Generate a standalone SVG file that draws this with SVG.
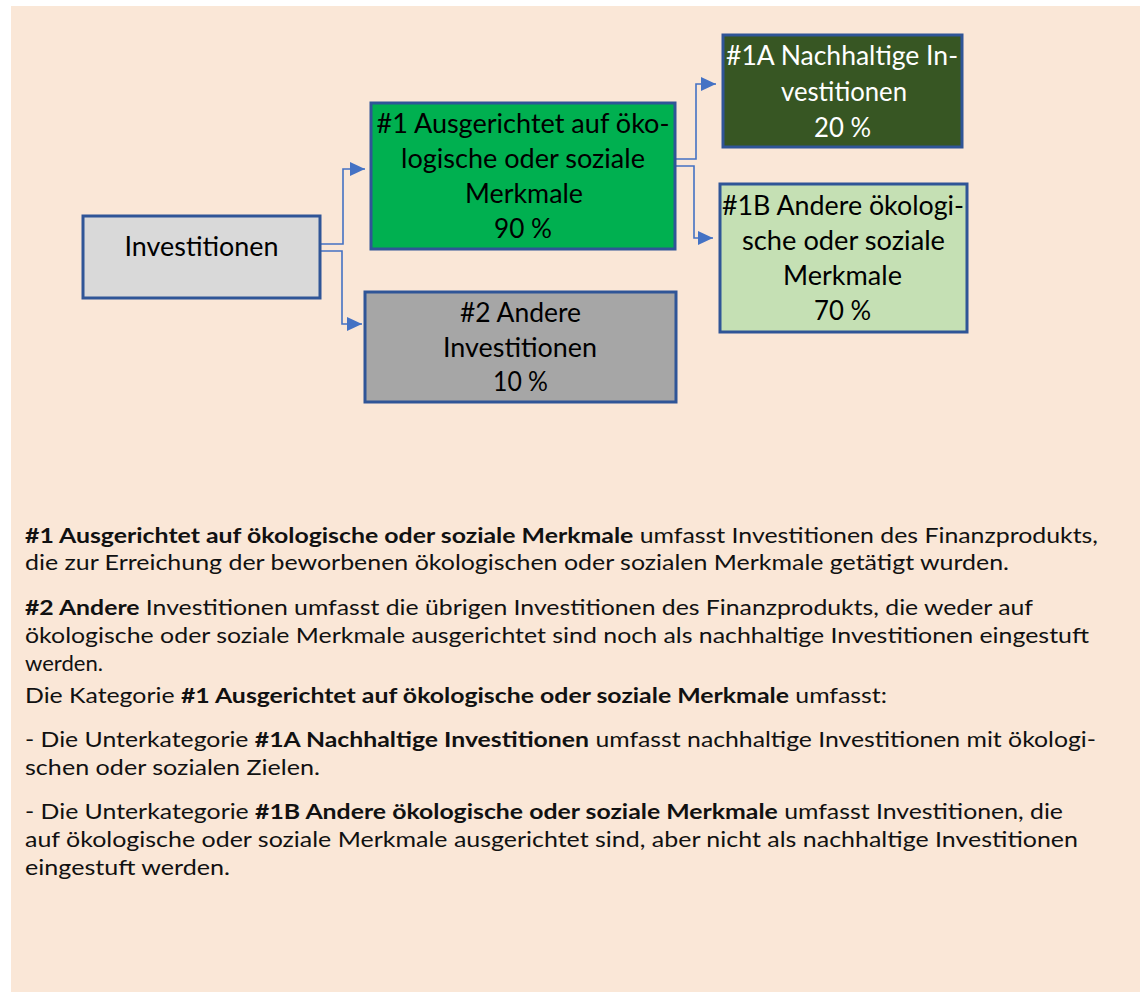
<svg xmlns="http://www.w3.org/2000/svg" width="1147" height="1001" viewBox="0 0 1147 1001">
<style>
.box{stroke:#2F5597;stroke-width:3}
.bt{font-family:Lato,"Liberation Sans",sans-serif;font-size:27px;text-anchor:middle;fill:#000}
.w{fill:#fff}
.p{font-family:Lato,"Liberation Sans",sans-serif;font-size:20.5px;fill:#111}
.b{font-weight:700}
.con{fill:none;stroke:#4472C4;stroke-width:1.6}
</style>
<defs>
<marker id="ah" markerUnits="userSpaceOnUse" markerWidth="16" markerHeight="16" refX="15" refY="7" orient="auto">
<path d="M0,0 L15,7 L0,14 Z" fill="#4472C4"/>
</marker>
</defs>
<rect x="0" y="0" width="1147" height="1001" fill="#ffffff"/>
<rect x="11" y="6" width="1129" height="986" fill="#FAE7D7"/>
<g id="connectors">
<path class="con" d="M320,244 H343 V169 H365" marker-end="url(#ah)"/>
<path class="con" d="M320,251 H342 V324 H362" marker-end="url(#ah)"/>
<path class="con" d="M675,159 H696 V84 H716" marker-end="url(#ah)"/>
<path class="con" d="M675,166 H694 V238 H713" marker-end="url(#ah)"/>
</g>
<g id="n-investitionen">
<rect class="box" x="83" y="216" width="237" height="82" fill="#D9D9D9"/>
<text class="bt" x="201.5" y="256" textLength="154" lengthAdjust="spacingAndGlyphs">Investitionen</text>
</g>
<g id="n-1">
<rect class="box" x="371" y="103" width="304" height="146" fill="#00B050"/>
<text class="bt" x="523" y="133" textLength="293" lengthAdjust="spacingAndGlyphs">#1 Ausgerichtet auf öko-</text>
<text class="bt" x="523" y="168" textLength="244" lengthAdjust="spacingAndGlyphs">logische oder soziale</text>
<text class="bt" x="524" y="203" textLength="118" lengthAdjust="spacingAndGlyphs">Merkmale</text>
<text class="bt" x="523" y="238" textLength="58" lengthAdjust="spacingAndGlyphs">90 %</text>
</g>
<g id="n-2">
<rect class="box" x="365" y="292" width="311" height="110" fill="#A6A6A6"/>
<text class="bt" x="520.5" y="322" textLength="121" lengthAdjust="spacingAndGlyphs">#2 Andere</text>
<text class="bt" x="520" y="357" textLength="154" lengthAdjust="spacingAndGlyphs">Investitionen</text>
<text class="bt" x="520.5" y="391" textLength="55" lengthAdjust="spacingAndGlyphs">10 %</text>
</g>
<g id="n-1a">
<rect class="box" x="723" y="35" width="239" height="112" fill="#375623"/>
<text class="bt w" x="842" y="65" textLength="232" lengthAdjust="spacingAndGlyphs">#1A Nachhaltige In-</text>
<text class="bt w" x="844" y="101" textLength="126" lengthAdjust="spacingAndGlyphs">vestitionen</text>
<text class="bt w" x="842.5" y="137" textLength="57" lengthAdjust="spacingAndGlyphs">20 %</text>
</g>
<g id="n-1b">
<rect class="box" x="720" y="184" width="247" height="148" fill="#C5E0B4"/>
<text class="bt" x="843" y="215" textLength="242" lengthAdjust="spacingAndGlyphs">#1B Andere ökologi-</text>
<text class="bt" x="843.5" y="250" textLength="203" lengthAdjust="spacingAndGlyphs">sche oder soziale</text>
<text class="bt" x="842.5" y="285" textLength="119" lengthAdjust="spacingAndGlyphs">Merkmale</text>
<text class="bt" x="842.5" y="320" textLength="57" lengthAdjust="spacingAndGlyphs">70 %</text>
</g>
<g id="legend-text">
<text class="p" x="25" y="543" textLength="1073" lengthAdjust="spacingAndGlyphs"><tspan class="b">#1 Ausgerichtet auf ökologische oder soziale Merkmale</tspan> umfasst Investitionen des Finanzprodukts,</text>
<text class="p" x="25" y="570" textLength="984" lengthAdjust="spacingAndGlyphs">die zur Erreichung der beworbenen ökologischen oder sozialen Merkmale getätigt wurden.</text>
<text class="p" x="25" y="615" textLength="1008" lengthAdjust="spacingAndGlyphs"><tspan class="b">#2 Andere</tspan> Investitionen umfasst die übrigen Investitionen des Finanzprodukts, die weder auf</text>
<text class="p" x="25" y="643" textLength="1064" lengthAdjust="spacingAndGlyphs">ökologische oder soziale Merkmale ausgerichtet sind noch als nachhaltige Investitionen eingestuft</text>
<text class="p" x="25" y="671" textLength="78" lengthAdjust="spacingAndGlyphs">werden.</text>
<text class="p" x="25" y="703" textLength="862" lengthAdjust="spacingAndGlyphs">Die Kategorie <tspan class="b">#1 Ausgerichtet auf ökologische oder soziale Merkmale</tspan> umfasst:</text>
<text class="p" x="25" y="747" textLength="1071" lengthAdjust="spacingAndGlyphs">- Die Unterkategorie <tspan class="b">#1A Nachhaltige Investitionen</tspan> umfasst nachhaltige Investitionen mit ökologi-</text>
<text class="p" x="25" y="775" textLength="295" lengthAdjust="spacingAndGlyphs">schen oder sozialen Zielen.</text>
<text class="p" x="25" y="819" textLength="1038" lengthAdjust="spacingAndGlyphs">- Die Unterkategorie <tspan class="b">#1B Andere ökologische oder soziale Merkmale</tspan> umfasst Investitionen, die</text>
<text class="p" x="25" y="847" textLength="1053" lengthAdjust="spacingAndGlyphs">auf ökologische oder soziale Merkmale ausgerichtet sind, aber nicht als nachhaltige Investitionen</text>
<text class="p" x="25" y="875" textLength="205" lengthAdjust="spacingAndGlyphs">eingestuft werden.</text>
</g>
</svg>
